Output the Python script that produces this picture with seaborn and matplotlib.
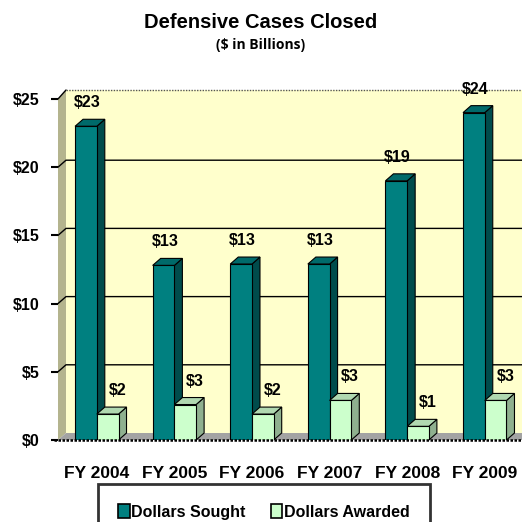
import matplotlib
matplotlib.use("Agg")
import matplotlib.pyplot as plt
import matplotlib.transforms as mtransforms
from matplotlib.patches import Polygon, Patch
import pandas as pd
import seaborn as sns

# DATA
years = ['FY 2004', 'FY 2005', 'FY 2006', 'FY 2007', 'FY 2008', 'FY 2009']
sought = [23.0, 12.8, 12.9, 12.9, 19.0, 24.0]
awarded = [1.9, 2.6, 1.9, 2.9, 1.0, 2.9]
series_names = ['Dollars Sought', 'Dollars Awarded']
y_ticks = [0, 5, 10, 15, 20, 25]

# colours: front, side, top
teal = ('#008080', '#004c4c', '#006a6a')
mint = ('#ccffcc', '#8fb08f', '#b0d8b0')

df = pd.DataFrame({
    'year': years * 2,
    'value': sought + awarded,
    'series': [series_names[0]] * len(years) + [series_names[1]] * len(years),
})

sns.set_style('white')
plt.rcParams['font.family'] = ['Liberation Sans', 'DejaVu Sans']
plt.rcParams['font.weight'] = 'bold'
for key in ['text.color', 'xtick.color', 'ytick.color', 'axes.labelcolor']:
    plt.rcParams[key] = 'black'

fig = plt.figure(figsize=(5.22, 5.22), dpi=100)
W = H = 522
# front plane of the plot: x 58..522 px, y 440 (=0) .. 99 (=25) px from top
ax = fig.add_axes([58 / W, (H - 440) / H, (W - 58) / W, (440 - 99) / H])
ax.set_facecolor('none')

sns.barplot(data=df, x='year', y='value', hue='series', palette=[teal[0], mint[0]],
            width=0.56, edgecolor='black', linewidth=0.8, errorbar=None, saturation=1,
            legend=False, ax=ax, zorder=3)

ax.set_xlim(-0.5, 5.48)
ax.set_ylim(0, 25)
for s in ax.spines.values():
    s.set_visible(False)
ax.set_xlabel('')
ax.set_ylabel('')
ax.set_yticks(y_ticks)
ax.set_yticklabels(['$%d' % t for t in y_ticks], fontsize=11.5, fontweight='bold')
ax.tick_params(axis='y', length=5, width=1.5, color='black', pad=8, left=True)
ax.tick_params(axis='x', length=0, pad=19)
for lab in ax.get_xticklabels():
    lab.set_fontsize(12.5)
    lab.set_fontweight('bold')

ident = mtransforms.IdentityTransform()
dx, dy = 8, 7   # depth in pixels


def disp(x, y):
    return ax.transData.transform((x, y))


def poly(pts, fc, ec='black', lw=0.8, z=1):
    ax.add_patch(Polygon(pts, closed=True, facecolor=fc, edgecolor=ec, linewidth=lw,
                         transform=ident, clip_on=False, zorder=z))


x0, x1 = ax.get_xlim()
fl, fb = disp(x0, 0)
fr, ft = disp(x1, 25)
fr = fr + 20

# back wall
poly([(fl + dx, fb + dy), (fr, fb + dy), (fr, ft + dy + 2), (fl + dx, ft + dy + 2)], '#ffffcc', ec='none', z=0.5)
# left wall
poly([(fl, fb), (fl + dx, fb + dy), (fl + dx, ft + dy + 2), (fl, ft)], '#b4b48e', ec='none', z=0.6)
# floor
poly([(fl, fb), (fr, fb), (fr, fb + dy), (fl + dx, fb + dy)], '#a3a3a3', ec='none', z=0.6)

# gridlines on back wall and left wall
for t in y_ticks[1:-1]:
    _, yy = disp(x0, t)
    ax.plot([fl, fl + dx, fr], [yy, yy + dy, yy + dy], color='black', lw=1.0,
            transform=ident, clip_on=False, zorder=0.8)
_, yt = disp(x0, 25)
ax.plot([fl, fl + dx], [yt, yt + dy + 2], color='black', lw=1.0, transform=ident, clip_on=False, zorder=0.8)
ax.plot([fl + dx, fr], [yt + dy + 2, yt + dy + 2], color='#555555', lw=1.0, ls=(0, (1, 1)),
        transform=ident, clip_on=False, zorder=0.8)
# front baseline
ax.plot([fl - 4, fr], [fb, fb], color='black', lw=1.8, ls=(0, (1, 0.6)),
        transform=ident, clip_on=False, zorder=5)

# 3d bars: side and top faces drawn from the seaborn patches
label_shift = [1, 7]
for k, (cont, cols) in enumerate(zip(ax.containers, [teal, mint])):
    z = 2 + k * 2
    for bar in cont:
        bar.set_zorder(z + 1)
        bx0, by0 = disp(bar.get_x(), 0)
        bx1, by1 = disp(bar.get_x() + bar.get_width(), bar.get_height())
        poly([(bx1, by0), (bx1 + dx, by0 + dy), (bx1 + dx, by1 + dy), (bx1, by1)], cols[1], z=z)
        poly([(bx0, by1), (bx1, by1), (bx1 + dx, by1 + dy), (bx0 + dx, by1 + dy)], cols[2], z=z)
        ax.annotate('$%.0f' % bar.get_height(),
                    xy=(bar.get_x() + bar.get_width() / 2, bar.get_height()),
                    xytext=(label_shift[k], 11.5), textcoords='offset points', ha='center',
                    va='bottom', fontsize=11.5, fontweight='bold', zorder=7)

fig.text(0.5, 1 - 22 / H, 'Defensive Cases Closed', ha='center', va='center',
         fontsize=14.5, fontweight='bold')
fig.text(0.5, 1 - 45 / H, '($ in Billions)', ha='center', va='center',
         fontsize=10, fontweight='bold', family=['Open Sans', 'DejaVu Sans'])

handles = [Patch(facecolor=teal[0], edgecolor='black', linewidth=1.2),
           Patch(facecolor=mint[0], edgecolor='black', linewidth=1.2)]
leg = fig.legend(handles, series_names, loc='center', bbox_to_anchor=(264 / W, 1 - 512 / H),
                 ncol=2, frameon=True, fancybox=False, edgecolor='black',
                 handlelength=0.7, handleheight=0.9, handletextpad=0.1, columnspacing=1.6,
                 borderpad=1.25, prop={'size': 11.5, 'weight': 'bold'}, borderaxespad=0)
leg.get_frame().set_linewidth(2)

fig.savefig('out.png', dpi=100)
